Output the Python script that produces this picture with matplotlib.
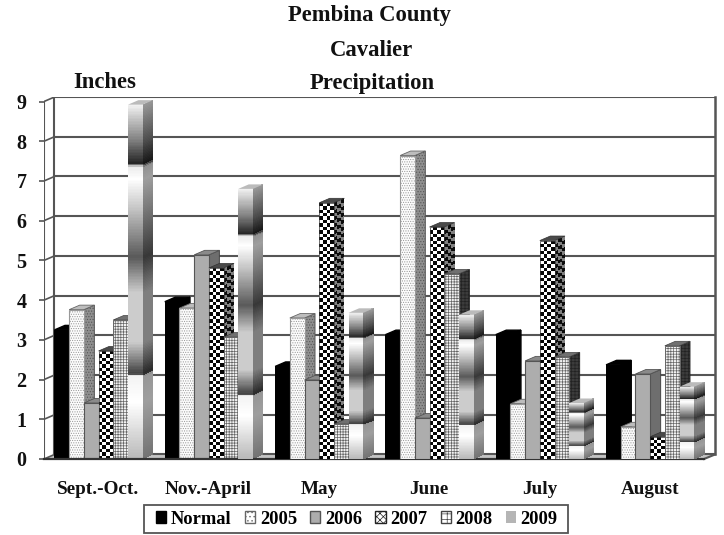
import numpy as np
import matplotlib
matplotlib.use("Agg")
import matplotlib.pyplot as plt
from matplotlib.patches import Patch, Polygon, Rectangle

categories = ["Sept.-Oct.", "Nov.-April", "May", "June", "July", "August"]
series_names = ["Normal", "2005", "2006", "2007", "2008", "2009"]
normal = [3.25, 3.96, 2.33, 3.13, 3.13, 2.37]
y2005 = [3.76, 3.80, 3.55, 7.64, 1.39, 0.81]
y2006 = [1.41, 5.14, 1.99, 1.03, 2.47, 2.14]
y2007 = [2.72, 4.81, 6.45, 5.84, 5.50, 0.56]
y2008 = [3.50, 3.07, 0.88, 4.66, 2.57, 2.85]
y2009 = [8.92, 6.80, 3.68, 3.63, 1.41, 1.82]
all_series = [normal, y2005, y2006, y2007, y2008, y2009]
y_ticks = list(range(10))

plt.rcParams["font.family"] = ["Liberation Serif", "DejaVu Serif"]
plt.rcParams["font.weight"] = "bold"
plt.rcParams["hatch.linewidth"] = 0.5

W, H = 724, 535
fig = plt.figure(figsize=(W / 100, H / 100), dpi=100)
ax = fig.add_axes([44 / W, (H - 459) / H, (715 - 44) / W, (459 - 97) / H])

# one group is about 110 px wide, one inch about 40 px high
px_x = 1 / 110.4
px_y = 1 / 39.67
dx = 10.5 * px_x
dy = 4.5 * px_y
bw = 14.7 * px_x
ax.set_xlim(-dx, 661 * px_x)
ax.set_ylim(0, 9 + dy)

GRID = "#555555"

# fade of the 2009 bars, fraction of bar height -> grey level
fade_pos = [0, .16, .235, .24, .33, .47, .57, .70, .79, .825, .835, .90, 1]
fade_val = [.72, 1, .95, .25, .80, .80, .35, .75, 1, .92, .15, .50, .95]


def quad(x0, x1, y0, y1, slope, shade, z):
    # draws a grey texture on a front face (slope 0) or a skewed side face
    rows, cols = shade.shape
    xs = np.linspace(x0, x1, cols + 1)
    fr = np.linspace(0, 1, rows + 1)
    X, F = np.meshgrid(xs, fr)
    Y = y0 + F * (y1 - y0) + (X - x0) * slope
    ax.pcolormesh(X, Y, shade, cmap="gray", vmin=0, vmax=1, shading="flat",
                  antialiased=False, zorder=z, linewidth=0)


def checker(rows, cols, dark, light):
    r, c = np.indices((rows, cols))
    return np.where((r + c) % 2 == 0, dark, light)


def outline(pts, z, color="#555555", lw=0.7):
    ax.add_patch(Polygon(pts, closed=True, fill=False, edgecolor=color, lw=lw, zorder=z))


# walls and floor
ax.add_patch(Polygon([(-dx, 0), (650 * px_x, 0), (661 * px_x, dy), (0, dy)],
                     closed=True, facecolor="#c4c4c4", edgecolor="none", zorder=1))
for t in y_ticks:
    ax.plot([0, 661 * px_x], [t + dy, t + dy], color=GRID, lw=1.5, zorder=2)
    ax.plot([-dx, 0], [t, t + dy], color=GRID, lw=1.2, zorder=2)
ax.plot([-dx, -dx], [0, 9], color=GRID, lw=1.5, zorder=2)
ax.plot([0, 0], [dy, 9 + dy], color=GRID, lw=1.5, zorder=2)
ax.plot([661 * px_x] * 2, [dy, 9 + dy], color=GRID, lw=1.8, zorder=2, clip_on=False)
ax.plot([650 * px_x, 661 * px_x], [0, dy], color=GRID, lw=1.5, zorder=2, clip_on=False)
ax.plot([-dx, 650 * px_x], [0, 0], color="#333333", lw=1.6, zorder=60, clip_on=False)

z = 3
for g in range(len(categories)):
    for s, vals in enumerate(all_series):
        h = vals[g]
        x0 = g + s * bw
        x1 = x0 + bw
        slope = dy / dx
        front = [(x0, 0), (x1, 0), (x1, h), (x0, h)]
        side = [(x1, 0), (x1 + dx, dy), (x1 + dx, h + dy), (x1, h)]
        top = [(x0, h), (x1, h), (x1 + dx, h + dy), (x0 + dx, h + dy)]

        if s == 0:
            ax.bar(x0, h, bw, align="edge", color="black", zorder=z + 2)
            ax.add_patch(Polygon(side, closed=True, color="black", zorder=z))
            ax.add_patch(Polygon(top, closed=True, color="black", zorder=z + 1))
        elif s == 1:
            ax.add_patch(Polygon(side, closed=True, facecolor="#8f8f8f", edgecolor="#555555",
                                 lw=0.7, hatch="......", zorder=z))
            ax.add_patch(Polygon(top, closed=True, facecolor="#bdbdbd", edgecolor="#666666",
                                 lw=0.6, zorder=z + 1))
            ax.bar(x0, h, bw, align="edge", color="#fcfcfc", edgecolor="#999999", lw=0.8,
                   hatch=".......", zorder=z + 2)
        elif s == 2:
            ax.add_patch(Polygon(side, closed=True, facecolor="#6e6e6e", edgecolor="#444444",
                                 lw=0.7, zorder=z))
            ax.add_patch(Polygon(top, closed=True, facecolor="#8a8a8a", edgecolor="#555555",
                                 lw=0.6, zorder=z + 1))
            ax.bar(x0, h, bw, align="edge", color="#adadad", edgecolor="#555555", lw=0.8,
                   zorder=z + 2)
        elif s == 3:
            rows = max(int(round(h / px_y / 3.4)), 1)
            quad(x1, x1 + dx, h * 0, h, slope, checker(rows, 3, .05, .5), z)
            ax.add_patch(Polygon(top, closed=True, facecolor="#4a4a4a", edgecolor="#333333",
                                 lw=0.5, zorder=z + 1))
            quad(x0, x1, 0, h, 0, checker(rows, 4, .02, 1), z + 2)
            outline(front, z + 3, color="#333333", lw=0.5)
        elif s == 4:
            ax.add_patch(Polygon(side, closed=True, facecolor="#3c3c3c", edgecolor="#222222",
                                 lw=0.6, hatch="+++++", zorder=z))
            ax.add_patch(Polygon(top, closed=True, facecolor="#707070", edgecolor="#444444",
                                 lw=0.5, zorder=z + 1))
            ax.bar(x0, h, bw, align="edge", color="#f2f2f2", edgecolor="#666666", lw=0.7,
                   hatch="++++++", zorder=z + 2)
        else:
            fr = (np.arange(240) + .5) / 240
            fade = np.interp(fr, fade_pos, fade_val)[:, None]
            quad(x1, x1 + dx, 0, h, slope, fade * .62, z)
            ax.add_patch(Polygon(top, closed=True, facecolor="#bbbbbb", edgecolor="none",
                                 zorder=z + 1))
            quad(x0, x1, 0, h, 0, fade, z + 2)
        z += 5

ax.set_xticks([g + 2.98 * bw for g in range(len(categories))], categories)
ax.set_yticks(y_ticks)
ax.tick_params(axis="x", length=0, pad=16, labelsize=13.8, colors="#111111")
ax.tick_params(axis="y", length=3.6, width=1.2, color=GRID, pad=9, labelsize=14.5,
               labelcolor="#111111")
for sp in ax.spines.values():
    sp.set_visible(False)
ax.patch.set_alpha(0)


def ftext(px, py, s, size=16.3):
    fig.text(px / W, 1 - py / H, s, ha="center", va="center", fontsize=size,
             fontweight="bold", color="#111111")


ftext(370, 15, "Pembina County")
ftext(371, 50, "Cavalier")
ftext(372.5, 84, "Precipitation")
ftext(105, 82, "Inches")

# legend box is drawn on its own so it can be wider than the entries need
fig.add_artist(Rectangle((144 / W, 1 - 533 / H), 424 / W, 28 / H, transform=fig.transFigure,
                         facecolor="white", edgecolor="#555555", lw=1.3))
handles = [
    Patch(facecolor="black", edgecolor="black"),
    Patch(facecolor="white", edgecolor="#666666", hatch="...."),
    Patch(facecolor="#adadad", edgecolor="#555555"),
    Patch(facecolor="white", edgecolor="#222222", hatch="xxxxx"),
    Patch(facecolor="white", edgecolor="#444444", hatch="+++"),
    Patch(facecolor="#b5b5b5", edgecolor="none"),
]
leg = fig.legend(handles, series_names, ncol=6, loc="center",
                 bbox_to_anchor=(357 / W, 1 - 519 / H), fontsize=13.3, frameon=False,
                 handlelength=0.55, handleheight=0.65, handletextpad=0.25,
                 columnspacing=0.72, borderpad=0, borderaxespad=0)

fig.savefig("out.png", dpi=100)
